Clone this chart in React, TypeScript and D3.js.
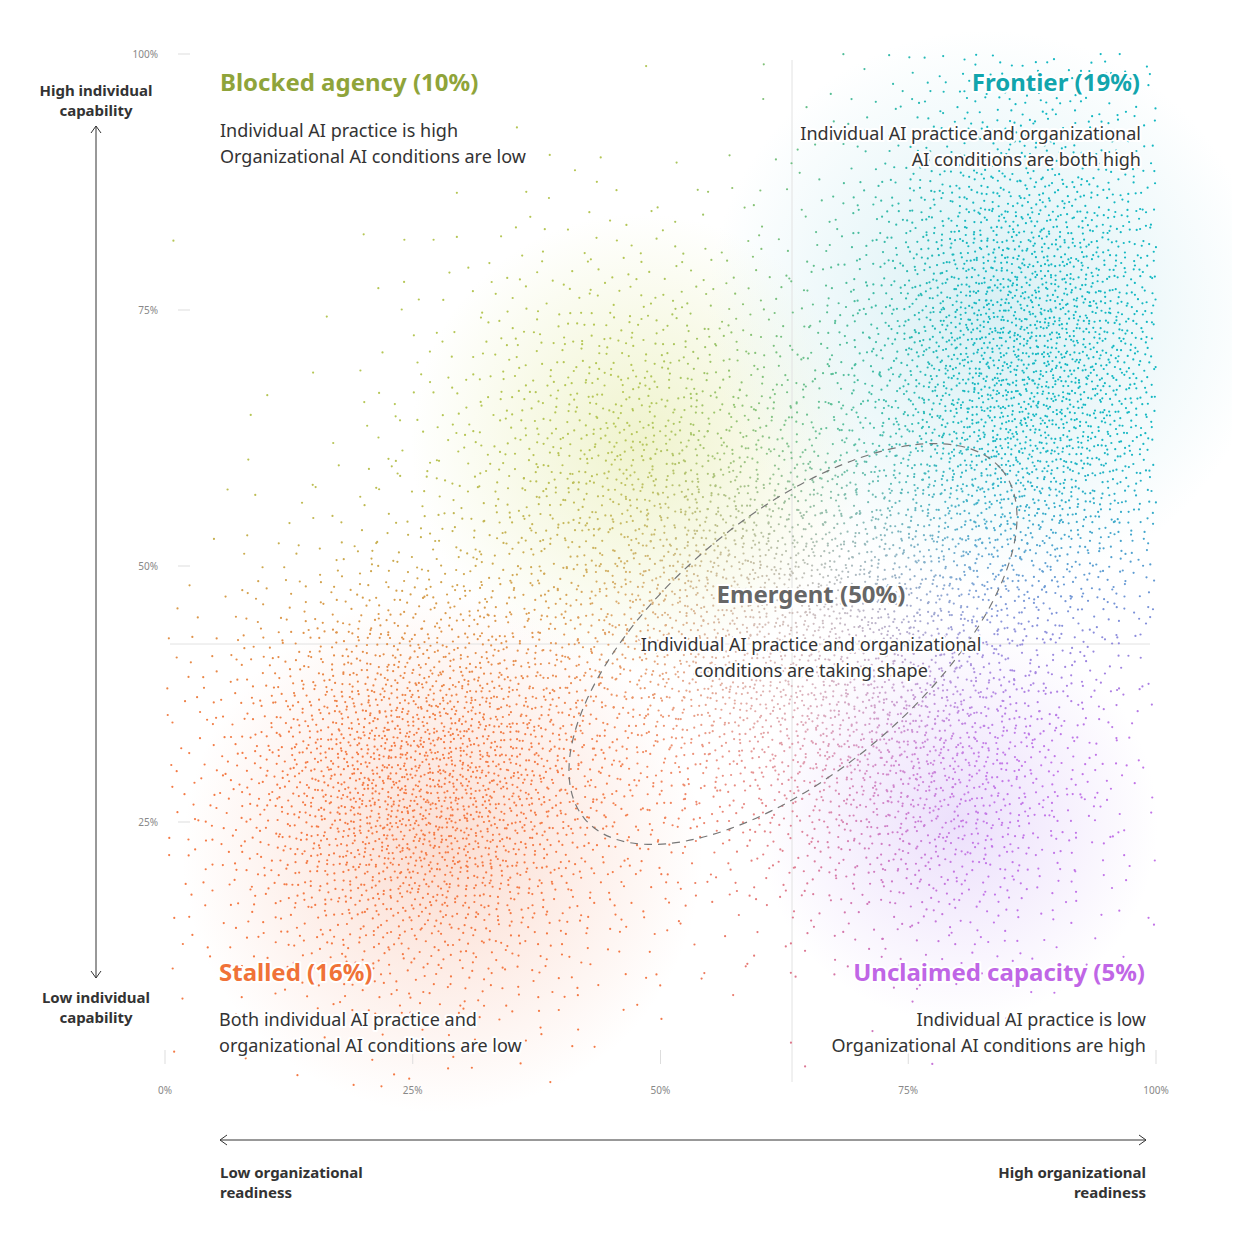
import * as d3 from 'd3';

// cluster summaries (percent units)
const clusterNames = ['stalled', 'blocked', 'frontier', 'unclaimed', 'emergent'];
const clusterCx = [26, 47, 87, 79, 63];
const clusterCy = [29, 62, 70, 29, 43];
const clusterSx = [11, 12, 10, 9, 13];
const clusterSy = [11, 11, 15, 9, 12];
const clusterCount = [3000, 1100, 3800, 1000, 2600];

const xTicks = [0, 25, 50, 75, 100];
const yTicks = [25, 50, 75, 100];

const W = 1240, H = 1254;
const x = d3.scaleLinear().domain([0, 100]).range([165, 1156]);
const y = d3.scaleLinear().domain([0, 100]).range([1078, 54]);

const halton = (i: number, b: number) => {
  let f = 1, r = 0;
  while (i > 0) { f /= b; r += f * (i % b); i = Math.floor(i / b); }
  return r;
};

const cBL = d3.rgb('#f47a45'), cTL = d3.rgb('#b5c655'), cTR = d3.rgb('#14b8c2'), cBR = d3.rgb('#c274e8');
const smooth = (t: number) => { t = Math.max(0, Math.min(1, t)); return t * t * (3 - 2 * t); };
function colorAt(px: number, py: number) {
  const tx = smooth((px - 45) / 40), ty = smooth((py - 30) / 35);
  const top = d3.interpolateRgb(cTL, cTR)(tx), bot = d3.interpolateRgb(cBL, cBR)(tx);
  const c = d3.interpolateRgb(bot, top)(ty);
  const d2 = ((px - 63) / 17) ** 2 + ((py - 43) / 15) ** 2;
  return d3.interpolateRgb(c, '#e6dfe2')(0.6 * Math.exp(-d2));
}

const points: { px: number; py: number; c: string }[] = [];
let seed = 1;
clusterNames.forEach((_, k) => {
  for (let i = 0; i < clusterCount[k]; i++) {
    seed++;
    const u = Math.max(1e-6, halton(seed, 2)), v = halton(seed, 3);
    const r = Math.sqrt(-2 * Math.log(u));
    const px = clusterCx[k] + clusterSx[k] * r * Math.cos(2 * Math.PI * v);
    const py = clusterCy[k] + clusterSy[k] * r * Math.sin(2 * Math.PI * v);
    if (px < 0 || px > 100 || py < -1 || py > 100) continue;
    points.push({ px, py, c: colorAt(px, py) });
  }
});

const glows = [
  { cx: 28, cy: 22, r: 260, c: '#fbd9cc' },
  { cx: 48, cy: 62, r: 230, c: '#eef2c8' },
  { cx: 83, cy: 75, r: 280, c: '#d3eef3' },
  { cx: 80, cy: 25, r: 200, c: '#eadcfb' },
];

const F = '"Noto Sans", "Open Sans", sans-serif';

export default function App() {
  const ax = 96, hy = 1140;
  const halo = { stroke: '#fff', strokeWidth: 4, paintOrder: 'stroke', strokeLinejoin: 'round' } as any;
  return (
    <svg width={W} height={H} style={{ display: 'block', margin: -8 }} fontFamily={F}>
      <defs>
        {glows.map((g, i) => (
          <radialGradient key={i} id={'g' + i}>
            <stop offset="0%" stopColor={g.c} stopOpacity={0.9} />
            <stop offset="100%" stopColor={g.c} stopOpacity={0} />
          </radialGradient>
        ))}
      </defs>
      <rect width={W} height={H} fill="#fff" />
      {glows.map((g, i) => <circle key={i} cx={x(g.cx)} cy={y(g.cy)} r={g.r} fill={`url(#g${i})`} />)}
      <line x1={792} x2={792} y1={60} y2={1082} stroke="#e2e2e2" />
      <line x1={170} x2={1150} y1={644} y2={644} stroke="#e2e2e2" />
      {points.map((p, i) => <circle key={i} cx={x(p.px)} cy={y(p.py)} r={1.1} fill={p.c} />)}
      <ellipse cx={793} cy={644} rx={272} ry={128} transform="rotate(-40 793 644)" fill="none" stroke="#777" strokeDasharray="8 6" strokeWidth={1.2} />
      {yTicks.map(t => (
        <g key={t}>
          <text x={158} y={y(t) + 4} textAnchor="end" fontSize={10} fill="#888">{t}%</text>
          <line x1={178} x2={190} y1={y(t)} y2={y(t)} stroke="#ddd" />
        </g>
      ))}
      {xTicks.map(t => (
        <g key={t}>
          <text x={x(t)} y={1094} textAnchor="middle" fontSize={10} fill="#888">{t}%</text>
          <line x1={x(t)} x2={x(t)} y1={1050} y2={1064} stroke="#ddd" />
        </g>
      ))}
      <line x1={ax} x2={ax} y1={126} y2={978} stroke="#333" />
      <path d={`M${ax - 5},${133} L${ax},${126} L${ax + 5},${133} M${ax - 5},${971} L${ax},${978} L${ax + 5},${971}`} fill="none" stroke="#333" />
      <line x1={220} x2={1146} y1={hy} y2={hy} stroke="#333" />
      <path d={`M227,${hy - 5} L220,${hy} L227,${hy + 5} M1139,${hy - 5} L1146,${hy} L1139,${hy + 5}`} fill="none" stroke="#333" />
      <g fontSize={15} fontWeight={700} fill="#333" textAnchor="middle">
        <text x={ax} y={96}>High individual</text>
        <text x={ax} y={116}>capability</text>
        <text x={ax} y={1003}>Low individual</text>
        <text x={ax} y={1023}>capability</text>
        <text x={220} y={1178} textAnchor="start">Low organizational</text>
        <text x={220} y={1198} textAnchor="start">readiness</text>
        <text x={1146} y={1178} textAnchor="end">High organizational</text>
        <text x={1146} y={1198} textAnchor="end">readiness</text>
      </g>
      <g fontSize={24} fontWeight={700} {...halo}>
        <text x={220} y={91} fill="#8fa43a">Blocked agency (10%)</text>
        <text x={1140} y={91} fill="#12a5ad" textAnchor="end">Frontier (19%)</text>
        <text x={811} y={603} fill="#666" textAnchor="middle">Emergent (50%)</text>
        <text x={219} y={981} fill="#f07238">Stalled (16%)</text>
        <text x={1145} y={981} fill="#c066e6" textAnchor="end">Unclaimed capacity (5%)</text>
      </g>
      <g fontSize={18} fill="#333" {...halo}>
        <text x={220} y={137}>Individual AI practice is high</text>
        <text x={220} y={163}>Organizational AI conditions are low</text>
        <text x={1141} y={140} textAnchor="end">Individual AI practice and organizational</text>
        <text x={1141} y={166} textAnchor="end">AI conditions are both high</text>
        <text x={811} y={651} textAnchor="middle">Individual AI practice and organizational</text>
        <text x={811} y={677} textAnchor="middle">conditions are taking shape</text>
        <text x={219} y={1026}>Both individual AI practice and</text>
        <text x={219} y={1052}>organizational AI conditions are low</text>
        <text x={1146} y={1026} textAnchor="end">Individual AI practice is low</text>
        <text x={1146} y={1052} textAnchor="end">Organizational AI conditions are high</text>
      </g>
    </svg>
  );
}
